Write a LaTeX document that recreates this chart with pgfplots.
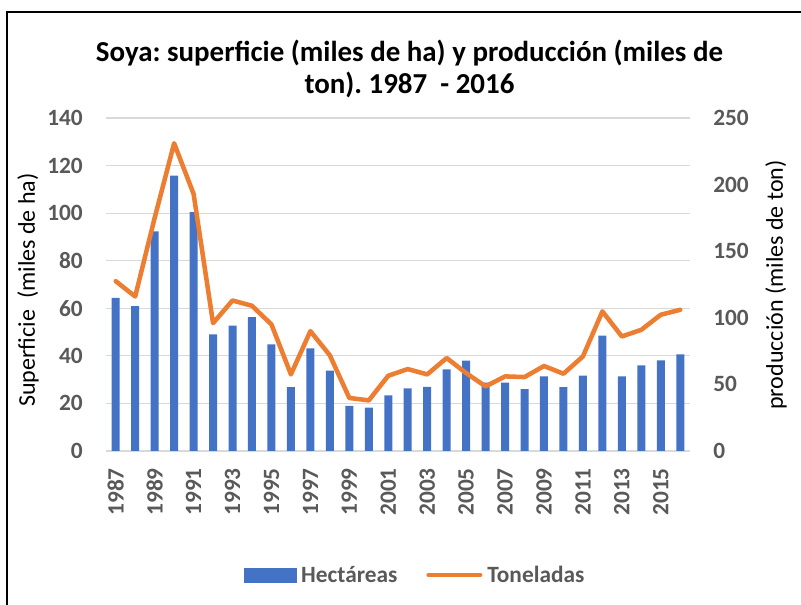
\documentclass[border=0pt]{standalone}
\usepackage{fontspec}
\setmainfont{Carlito}
\usepackage{pgfplots}
\pgfplotsset{compat=1.18}
\definecolor{barblue}{HTML}{4472C4}
\definecolor{lineor}{HTML}{ED7D31}
\definecolor{tickgray}{HTML}{595959}
\definecolor{gridgray}{HTML}{D9D9D9}
\newcommand{\tickfont}{\fontsize{17.5}{20}\selectfont\bfseries}
\newcommand{\labfont}{\fontsize{18}{21}\selectfont}
\frenchspacing
\begin{document}
\frenchspacing
\begin{tikzpicture}
\useasboundingbox (-79.5pt,-115.5pt) rectangle (521.25pt,338.25pt);
\draw[black, line width=1.1pt] (-74.25pt,-115.5pt) -- (-74.25pt,329.25pt) -- (521.25pt,329.25pt);
\begin{axis}[
  scale only axis, width=438pt, height=249.75pt,
  xmin=-0.5, xmax=29.5, ymin=0, ymax=140,
  ytick={0,20,...,140},
  xtick={0,2,...,28},
  xticklabels={1987,1989,1991,1993,1995,1997,1999,2001,2003,2005,2007,2009,2011,2013,2015},
  ymajorgrids, grid style={gridgray, line width=0.9pt},
  axis line style={draw=none},
  major tick length=0pt,
  /pgf/number format/assume math mode=true,
  tick label style={font=\tickfont, text=tickgray, inner sep=0pt},
  yticklabel shift=17.25pt,
  xticklabel shift=12.75pt,
  xticklabel style={rotate=90, anchor=east},
  ylabel={Superficie\ \ (miles de ha)},
  every axis y label/.style={at={(axis description cs:-0.1336,0.4835)}, rotate=90, anchor=center, font=\labfont, text=black},
]
\addplot[ybar, bar width=6pt, fill=barblue, draw=none] coordinates {
(0,64.4) (1,60.9) (2,92.3) (3,115.8) (4,100.4) (5,49.0) (6,52.7) (7,56.3) (8,44.8) (9,26.9)
(10,43.1) (11,33.8) (12,19.0) (13,18.2) (14,23.4) (15,26.3) (16,27.0) (17,34.3) (18,38.0) (19,28.7)
(20,28.7) (21,26.0) (22,31.4) (23,26.9) (24,31.7) (25,48.5) (26,31.4) (27,36.0) (28,38.1) (29,40.6)
};
\end{axis}
\begin{axis}[
  scale only axis, width=438pt, height=249.75pt,
  xmin=-0.5, xmax=29.5, ymin=0, ymax=250,
  ytick={0,50,...,250}, xtick=\empty,
  axis x line=none, axis y line*=right,
  axis line style={draw=none},
  major tick length=0pt,
  /pgf/number format/assume math mode=true,
  tick label style={font=\tickfont, text=tickgray, inner sep=0pt},
  yticklabel style={anchor=west},
  yticklabel shift=17.25pt,
  ylabel={producción (miles de ton)},
  every axis y label/.style={at={(axis description cs:1.1473,0.4985)}, rotate=90, anchor=center, font=\labfont, text=black},
  legend columns=2,
  legend style={draw=none, fill=none, at={(axis description cs:0.5274,-0.3724)}, anchor=center,
    font=\tickfont, text=tickgray, nodes={inner sep=0pt},
    /tikz/every odd column/.append style={column sep=3.75pt},
    /tikz/every even column/.append style={column sep=21.75pt}},
]
\addlegendimage{legend image code/.code={\fill[barblue] (0pt,-5.25pt) rectangle (39pt,5.25pt);}}
\addlegendentry{Hectáreas}
\addplot[lineor, line width=3.4pt, line join=round, line cap=round,
  legend image code/.code={\draw[lineor, line width=3.4pt, line cap=round] (1.7pt,0pt) -- (40.3pt,0pt);}] coordinates {
(0,127.5) (1,116) (2,175) (3,231) (4,193) (5,96) (6,113) (7,109) (8,95) (9,57.5)
(10,90) (11,71.8) (12,39.8) (13,38) (14,56.5) (15,61.5) (16,57.5) (17,69.8) (18,58.5) (19,48.5)
(20,56) (21,55.5) (22,63.8) (23,58) (24,71) (25,104.8) (26,86) (27,91) (28,102.3) (29,106)
};
\addlegendentry{Toneladas}
\end{axis}
\node[anchor=base, font=\fontsize{21.7}{24}\selectfont\bfseries] at (227.6pt,291.75pt) {Soya: superficie (miles de ha) y producción (miles de};
\node[anchor=base, font=\fontsize{21.7}{24}\selectfont\bfseries] at (227.6pt,267.75pt) {ton). 1987\ \ - 2016};
\end{tikzpicture}
\end{document}
